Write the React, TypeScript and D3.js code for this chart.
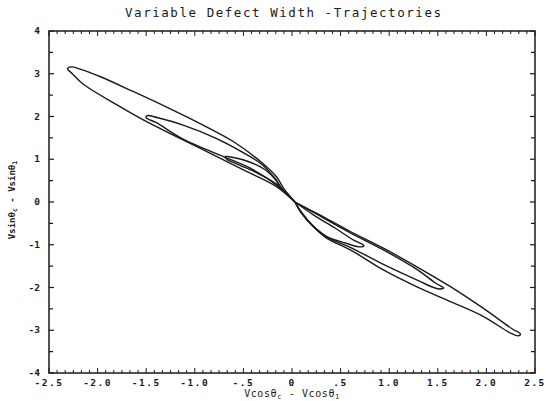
import React from "react";
import * as d3 from "d3";

const xTickLabels = ["-2.5", "-2.0", "-1.5", "-1.0", "-.5", "0", ".5", "1.0", "1.5", "2.0", "2.5"];
const xTickValues = [-2.5, -2.0, -1.5, -1.0, -0.5, 0, 0.5, 1.0, 1.5, 2.0, 2.5];
const yTickLabels = ["4", "3", "2", "1", "0", "-1", "-2", "-3", "-4"];
const yTickValues = [4, 3, 2, 1, 0, -1, -2, -3, -4];

// Trajectory lobes: [x, y] points
const largeUpperLeft: [number, number][] = [
  [0.03, 0.0], [-0.08, 0.3], [-0.16, 0.59], [-0.3, 0.9], [-0.6, 1.41], [-0.95, 1.84], [-1.29, 2.22],
  [-1.63, 2.58], [-1.97, 2.93], [-2.18, 3.11], [-2.27, 3.16], [-2.31, 3.12], [-2.26, 3.0],
  [-2.15, 2.76], [-1.8, 2.27], [-1.53, 1.92], [-1.19, 1.53], [-0.84, 1.14], [-0.5, 0.75],
  [-0.16, 0.36], [0.03, 0.0],
];
const largeLowerRight: [number, number][] = [
  [0.03, 0.0], [0.25, -0.26], [0.6, -0.69], [0.94, -1.08], [1.28, -1.51], [1.63, -1.98],
  [1.97, -2.49], [2.26, -2.96], [2.35, -3.09], [2.33, -3.13], [2.26, -3.08], [1.97, -2.68],
  [1.63, -2.33], [1.28, -1.98], [0.94, -1.59], [0.6, -1.12], [0.36, -0.85], [0.22, -0.58],
  [0.1, -0.25], [0.03, 0.0],
];
const mediumUpperLeft: [number, number][] = [
  [0.03, 0.0], [-0.1, 0.3], [-0.18, 0.57], [-0.3, 0.86], [-0.43, 1.06], [-0.78, 1.49],
  [-1.12, 1.8], [-1.38, 1.97], [-1.49, 2.02], [-1.5, 1.97], [-1.4, 1.86], [-1.12, 1.47],
  [-0.78, 1.13], [-0.43, 0.79], [-0.16, 0.4], [0.03, 0.0],
];
const mediumLowerRight: [number, number][] = [
  [0.03, 0.0], [0.25, -0.28], [0.6, -0.72], [0.94, -1.12], [1.28, -1.57], [1.48, -1.9],
  [1.56, -2.01], [1.5, -2.03], [1.3, -1.84], [0.94, -1.46], [0.6, -1.06], [0.36, -0.82],
  [0.2, -0.52], [0.09, -0.22], [0.03, 0.0],
];
const smallUpperLeft: [number, number][] = [
  [0.03, 0.0], [-0.1, 0.3], [-0.18, 0.55], [-0.28, 0.76], [-0.43, 0.93], [-0.6, 1.04],
  [-0.69, 1.06], [-0.67, 1.0], [-0.57, 0.89], [-0.36, 0.68], [-0.16, 0.42], [0.03, 0.0],
];
const smallLowerRight: [number, number][] = [
  [0.03, 0.0], [0.22, -0.3], [0.45, -0.62], [0.64, -0.9], [0.74, -1.02], [0.7, -1.05],
  [0.55, -0.96], [0.36, -0.81], [0.21, -0.55], [0.09, -0.24], [0.03, 0.0],
];
const lobes = [largeUpperLeft, largeLowerRight, mediumUpperLeft, mediumLowerRight, smallUpperLeft, smallLowerRight];

export default function App() {
  const W = 546, H = 401;
  const left = 49, right = 535, top = 31, bottom = 373;
  const x = d3.scaleLinear().domain([-2.5, 2.5]).range([left, right]);
  const y = d3.scaleLinear().domain([-4, 4]).range([bottom, top]);
  const line = d3
    .line<[number, number]>()
    .x((d) => x(d[0]))
    .y((d) => y(d[1]))
    .curve(d3.curveCatmullRom.alpha(0.5));

  const xMinor = d3.range(0, 61).map((i) => -2.5 + i / 12);
  const yMinor = d3.range(0, 17).map((i) => -4 + i * 0.5);
  const ink = "#1a1a1a";
  const font = "'DejaVu Sans Mono', monospace";

  return (
    <svg width={W} height={H} style={{ position: "absolute", left: 0, top: 0, background: "#fff" }}>
      <rect x={0} y={0} width={W} height={H} fill="#fff" />
      <text x={283} y={17} fontFamily={font} fontSize={12.5} fill={ink} textAnchor="middle"
        textLength={316} lengthAdjust="spacing">
        Variable Defect Width -Trajectories
      </text>
      {/* frame */}
      <rect x={left} y={top} width={right - left} height={bottom - top} fill="none" stroke={ink} strokeWidth={1.5} />
      {/* x ticks */}
      {xMinor.map((v, i) => {
        const len = i % 6 === 0 ? 5 : 3;
        return (
          <g key={"xt" + i}>
            <line x1={x(v)} x2={x(v)} y1={top} y2={top + len} stroke={ink} strokeWidth={1} />
            <line x1={x(v)} x2={x(v)} y1={bottom} y2={bottom - len} stroke={ink} strokeWidth={1} />
          </g>
        );
      })}
      {/* y ticks */}
      {yMinor.map((v, i) => {
        const len = i % 2 === 0 ? 5 : 4;
        return (
          <g key={"yt" + i}>
            <line x1={left} x2={left + len} y1={y(v)} y2={y(v)} stroke={ink} strokeWidth={1.2} />
            <line x1={right} x2={right - len} y1={y(v)} y2={y(v)} stroke={ink} strokeWidth={1.2} />
          </g>
        );
      })}
      {/* x tick labels */}
      {xTickValues.map((v, i) => (
        <text key={"xl" + i} x={x(v)} y={386} fontFamily={font} fontWeight="bold" fontSize={9.5}
          fill={ink} textAnchor="middle" letterSpacing={1.5}>
          {xTickLabels[i]}
        </text>
      ))}
      {/* y tick labels */}
      {yTickValues.map((v, i) => (
        <text key={"yl" + i} x={40} y={y(v) + 3} fontFamily={font} fontWeight="bold" fontSize={9.5}
          fill={ink} textAnchor="end">
          {yTickLabels[i]}
        </text>
      ))}
      {/* axis titles */}
      <text x={292} y={397} fontFamily={font} fontSize={10} fill={ink} textAnchor="middle" letterSpacing={0.6}>
        Vcosθ<tspan fontSize={7} dy={2}>c</tspan><tspan dy={-2}> - Vcosθ</tspan><tspan fontSize={7} dy={2}>1</tspan>
      </text>
      <text transform={`translate(15,200) rotate(-90)`} fontFamily={font} fontSize={9} fill={ink}
        textAnchor="middle" fontWeight="bold">
        Vsinθ<tspan fontSize={6.5} dy={2}>c</tspan><tspan dy={-2}> - Vsinθ</tspan><tspan fontSize={6.5} dy={2}>1</tspan>
      </text>
      {/* trajectories */}
      {lobes.map((pts, i) => (
        <path key={"lobe" + i} d={line(pts) || ""} fill="none" stroke={ink} strokeWidth={1.4} strokeLinejoin="round" />
      ))}
    </svg>
  );
}
